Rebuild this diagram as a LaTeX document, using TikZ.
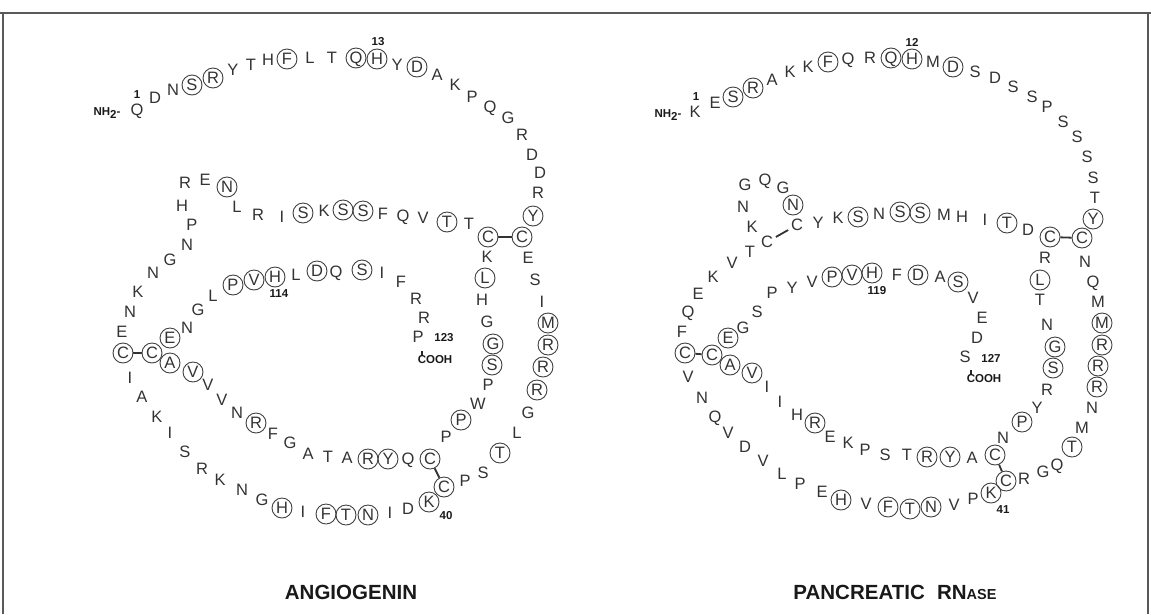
\documentclass[tikz,border=0pt]{standalone}
\usepackage{fontspec}
\setmainfont{Liberation Sans}
\begin{document}
\begin{tikzpicture}[x=1pt,y=-1pt,
  res/.style={circle, inner sep=0pt, minimum size=20pt, font=\fontsize{16.5}{16.5}\selectfont, text=black!80, text height=11.8pt, text depth=0pt},
  rN/.style={},
  rO/.style={draw=black!75, line width=0.9pt},
  num/.style={font=\bfseries\fontsize{11.5}{11.5}\selectfont, inner sep=0pt, text=black!90},
  bond/.style={line width=1.8pt, draw=black!80},
  tick/.style={line width=1.2pt, draw=black!85},
  title/.style={font=\bfseries\fontsize{20.5}{20.5}\selectfont, inner sep=0pt, text=black!90},
  frame/.style={line width=1.6pt, draw=black!65}]
\useasboundingbox (0,0) rectangle (1151,614);
\draw[frame] (0,13) -- (1151,13);
\draw[frame] (3,13) -- (3,614);
\draw[frame] (1148,13) -- (1148,614);

% ---------------- Angiogenin ----------------
\foreach \l/\x/\y/\c [count=\i] in {
Q/137/110/rN, D/155/98/rN, N/173/90/rN, S/192/85/rO, R/213/78/rO, Y/233/70/rN, T/251/65/rN, H/268/60/rN, F/287/59/rO, L/310/58/rN,
T/332/58/rN, Q/356/58/rO, H/377/59/rO, Y/397/65/rN, D/417/67/rO, A/437/75/rN, K/455/85/rN, P/472/97/rN, Q/490/107/rN, G/508/118/rN,
R/522/135/rN, D/532/155/rN, D/540/173/rN, R/538/193/rN, Y/533/216/rO, C/522/237/rO, E/528/258/rN, S/535/280/rN, I/542/302/rN, M/548/323/rO,
R/548/345/rO, R/543/367/rO, R/537/390/rO, G/528/413/rN, L/517/433/rN, T/500/453/rO, S/483/473/rN, P/465/481/rN, C/444/487/rO, K/429/502/rO,
D/408/509/rN, I/390/513/rN, N/368/515/rO, T/346/515/rO, F/326/514/rO, I/303/512/rN, H/282/508/rO, G/262/500/rN, N/242/490/rN, K/220/480/rN,
R/202/469/rN, S/185/452/rN, I/170/433/rN, K/157/417/rN, A/142/397/rN, I/130/378/rN, C/123/353/rO, E/122/332/rN, N/130/312/rN, K/138/292/rN,
N/153/273/rN, G/170/260/rN, N/187/245/rN, P/192/225/rN, H/182/206/rN, R/185/183/rN, E/205/180/rN, N/227/187/rO, L/237/207/rN, R/258/215/rN,
I/282/217/rN, S/303/213/rO, K/324/211/rN, S/343/210/rO, S/363/211/rO, F/383/214/rN, Q/403/216/rN, V/423/218/rN, T/447/222/rO, T/469/224/rN,
C/488/237/rO, K/487/257/rN, L/485/278/rO, H/482/300/rN, G/487/322/rN, G/493/344/rO, S/492/365/rO, P/488/385/rN, W/478/404/rN, P/461/420/rO,
P/446/437/rN, C/430/459/rO, Q/408/459/rN, Y/388/459/rO, R/368/459/rO, A/347/458/rN, T/328/457/rN, A/308/454/rN, G/290/443/rN, F/273/434/rN,
R/256/423/rO, N/237/413/rN, V/222/400/rN, V/208/385/rN, V/193/372/rO, A/170/363/rO, C/152/353/rO, E/170/338/rO, N/187/328/rN, G/198/310/rN,
L/213/296/rN, P/233/285/rO, V/254/280/rO, H/275/277/rO, L/296/275/rN, D/317/271/rO, Q/336/272/rN, S/362/270/rO, I/382/273/rN, F/401/282/rN,
R/416/299/rN, R/424/318/rN, P/418/337/rN}
  {\node[res,\c] (A\i) at (\x,\y) {\l};}
\draw[bond] (A26) -- (A81);
\draw[bond] (A39) -- (A92);
\draw[bond] (A57) -- (A107);
\node[num] (nA) at (107,113) {NH\raisebox{-3pt}{2}-};
\node[num] (lA1) at (137,95) {1};
\node[num] (lA13) at (378,42) {13};
\node[num] (lA114) at (279,294) {114};
\node[num] (lA40) at (446,516) {40};
\node[num] (lA123) at (444,338) {123};
\node[num] (cA) at (435,360) {COOH};
\draw[tick] ([xshift=4.5pt,yshift=1pt]cA.north west) -- ([xshift=4.5pt,yshift=5pt]cA.north west);
\node[title] (tA) at (351,592) {ANGIOGENIN};

% ---------------- Pancreatic RNase ----------------
\foreach \l/\x/\y/\c [count=\i] in {
K/695/112/rN, E/715/103/rN, S/733/97/rO, R/753/88/rO, A/772/80/rN, K/790/72/rN, K/808/67/rN, F/828/62/rO, Q/848/59/rN, R/870/58/rN,
Q/891/58/rO, H/912/59/rO, M/933/62/rN, D/953/67/rO, S/975/72/rN, D/995/78/rN, S/1013/87/rN, S/1032/97/rN, P/1047/107/rN, S/1063/122/rN,
S/1077/137/rN, S/1087/157/rN, S/1093/178/rN, T/1095/198/rN, Y/1093/219/rO, C/1082/238/rO, N/1085/262/rN, Q/1093/282/rN, M/1098/302/rN, M/1102/323/rO,
R/1102/345/rO, R/1098/366/rO, R/1097/387/rO, N/1092/408/rN, M/1082/428/rN, T/1072/447/rO, Q/1057/465/rN, G/1043/472/rN, R/1024/479/rN, C/1006/481/rO,
K/991/493/rO, P/973/499/rN, V/954/505/rN, N/931/507/rO, T/910/509/rO, F/888/507/rO, V/866/504/rN, H/841/500/rO, E/822/492/rN, P/800/484/rN,
L/782/474/rN, V/763/461/rN, D/745/447/rN, V/728/433/rN, Q/715/417/rN, N/702/398/rN, V/688/377/rN, C/685/353/rO, F/682/332/rN, Q/688/312/rN,
E/698/294/rN, K/713/277/rN, V/732/263/rN, T/750/252/rN, C/767/242/rN, K/752/227/rN, N/743/207/rN, G/745/185/rN, Q/765/180/rN, G/783/188/rN,
N/793/205/rO, C/797/225/rN, Y/818/223/rN, K/838/218/rN, S/858/217/rO, N/879/214/rN, S/900/212/rO, S/920/213/rO, M/944/215/rN, H/962/217/rN,
I/985/220/rN, T/1007/223/rO, D/1028/230/rN, C/1050/237/rO, R/1045/258/rN, L/1040/280/rO, T/1040/300/rN, N/1047/325/rN, G/1055/347/rO, S/1053/368/rO,
R/1047/390/rN, Y/1037/408/rN, P/1022/422/rO, N/1003/438/rN, C/995/455/rO, A/972/458/rN, Y/950/457/rO, R/927/457/rO, T/907/455/rN, S/885/455/rN,
P/865/450/rN, K/848/443/rN, E/830/437/rN, R/815/423/rO, H/797/415/rN, I/780/402/rN, I/767/387/rN, V/752/373/rO, A/730/365/rO, C/712/355/rO,
E/728/338/rO, G/743/328/rN, S/757/312/rN, P/772/293/rN, Y/792/288/rN, V/812/282/rN, P/832/277/rO, V/852/275/rO, H/872/273/rO, F/897/275/rN,
D/918/275/rO, A/940/277/rN, S/958/282/rO, V/973/298/rN, E/982/318/rN, D/977/338/rN, S/965/357/rN}
  {\node[res,\c] (B\i) at (\x,\y) {\l};}
\draw[bond] (B26) -- (B84);
\draw[bond] (B40) -- (B95);
\draw[bond] (B58) -- (B110);
\draw[bond] (B65) -- (B72);
\node[num] (nB) at (668,115) {NH\raisebox{-3pt}{2}-};
\node[num] (lB1) at (696,97) {1};
\node[num] (lB12) at (912,42) {12};
\node[num] (lB119) at (877,291) {119};
\node[num] (lB41) at (1003,510) {41};
\node[num] (lB127) at (991,358) {127};
\node[num] (cB) at (984,379) {COOH};
\draw[tick] ([xshift=4.5pt,yshift=1pt]cB.north west) -- ([xshift=4.5pt,yshift=5pt]cB.north west);
\node[title] (tB) at (895,592) {PANCREATIC\hspace{0.6em}RN{\fontsize{14.5}{14.5}\selectfont ASE}};
\end{tikzpicture}
\end{document}
